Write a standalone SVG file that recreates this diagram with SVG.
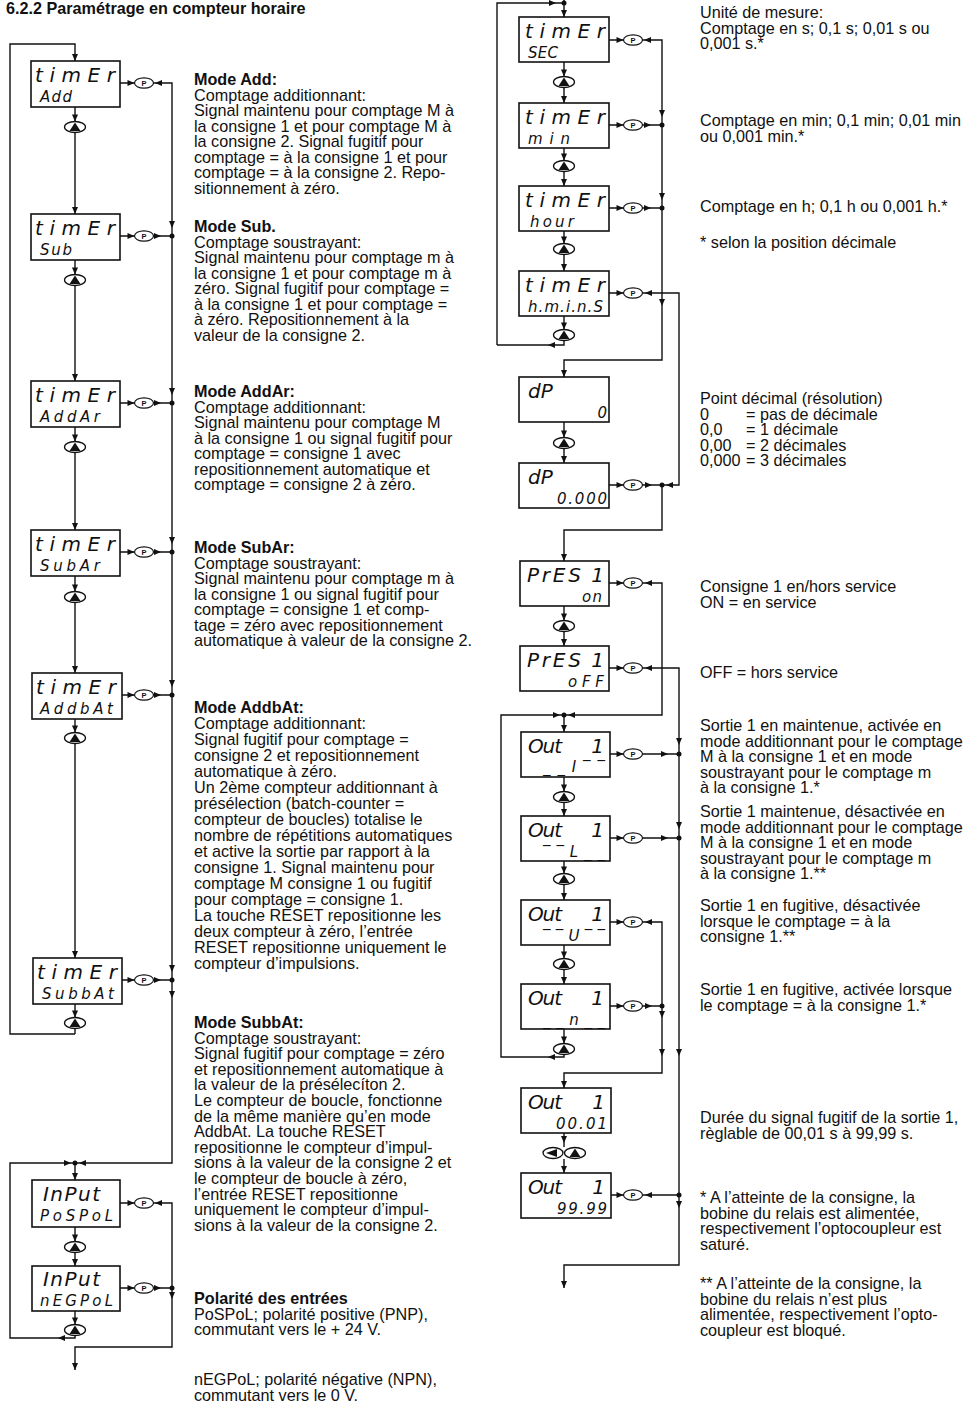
<svg xmlns="http://www.w3.org/2000/svg" width="980" height="1412" viewBox="0 0 980 1412">
<style>
.bg{fill:#fff}
.box{fill:#fff;stroke:#111;stroke-width:1.6}
.ln{fill:none;stroke:#111;stroke-width:1.4}
.t{font-family:"Liberation Sans",Arial,sans-serif;font-size:16.2px;fill:#111}
.b{font-weight:bold}
.s1{font-family:"DejaVu Sans",sans-serif;font-style:italic;font-size:20px;fill:#111}
.s2{font-family:"DejaVu Sans",sans-serif;font-style:italic;font-size:15px;fill:#111}
.ar{fill:#111}
</style>
<defs>
<path id="aD" class="ar" d="M0,0 L-3,-7 L3,-7 Z"/>
<path id="aR" class="ar" d="M0,0 L-7,-3 L-7,3 Z"/>
<path id="aL" class="ar" d="M0,0 L7,-3 L7,3 Z"/>
<circle id="dot" r="2.5" class="ar"/>
<g id="pb"><ellipse rx="9.5" ry="5.2" fill="#fff" stroke="#111" stroke-width="1.2"/><text y="2.7" text-anchor="middle" font-family="Liberation Sans,Arial,sans-serif" font-weight="bold" font-size="7.5" fill="#111">P</text></g>
<g id="ub"><ellipse rx="10.5" ry="5.5" fill="#fff" stroke="#111" stroke-width="1.3"/><path d="M-5.5,4 L5.5,4 L0,-4.5 Z" fill="#111"/></g>
<g id="lb"><ellipse rx="10" ry="5.5" fill="#fff" stroke="#111" stroke-width="1.3"/><path d="M-7,0 L4,-4 L4,4 Z" fill="#111"/></g>
</defs>
<rect class="bg" x="0" y="0" width="980" height="1412"/>

<text class="t b" x="6" y="14" font-size="21">6.2.2 Paramétrage en compteur horaire</text>

<g id="connectors">
<!-- left column -->
<path class="ln" d="M75,1034 H10 V44 H75 V61"/>
<use href="#aD" x="75" y="61"/>
<path class="ln" d="M75,107 V121.5 M75,132.5 V214 M75,260 V274.5 M75,285.5 V381 M75,427 V441.5 M75,452.5 V530 M75,576 V591.5 M75,602.5 V673 M75,719 V732.5 M75,743.5 V958 M75,1004 V1017.5 M75,1028.5 V1034"/>
<use href="#aD" x="75" y="121.5"/><use href="#aD" x="75" y="214"/>
<use href="#aD" x="75" y="274.5"/><use href="#aD" x="75" y="381"/>
<use href="#aD" x="75" y="441.5"/><use href="#aD" x="75" y="530"/>
<use href="#aD" x="75" y="591.5"/><use href="#aD" x="75" y="673"/>
<use href="#aD" x="75" y="732.5"/><use href="#aD" x="75" y="958"/>
<use href="#aD" x="75" y="1017.5"/>
<path class="ln" d="M120,83 H134.5 M120,236 H134.5 M120,403 H134.5 M120,552 H134.5 M120,695 H134.5 M120,980 H134.5"/>
<use href="#aR" x="134.5" y="83"/><use href="#aR" x="134.5" y="236"/><use href="#aR" x="134.5" y="403"/>
<use href="#aR" x="134.5" y="552"/><use href="#aR" x="134.5" y="695"/><use href="#aR" x="134.5" y="980"/>
<path class="ln" d="M153.5,83 H172 V1163 H10 V1338 H75 V1335.5 M153.5,236 H172 M153.5,403 H172 M153.5,552 H172 M153.5,695 H172 M153.5,980 H172"/>
<use href="#aR" x="161" y="236"/><use href="#aR" x="161" y="403"/><use href="#aR" x="161" y="552"/>
<use href="#aR" x="161" y="695"/><use href="#aR" x="161" y="980"/><use href="#aL" x="155" y="83"/>
<use href="#aD" x="172" y="228"/><use href="#aD" x="172" y="395"/><use href="#aD" x="172" y="544"/>
<use href="#aD" x="172" y="687"/><use href="#aD" x="172" y="972"/><use href="#aD" x="172" y="998"/>
<use href="#dot" x="172" y="236"/><use href="#dot" x="172" y="403"/><use href="#dot" x="172" y="552"/>
<use href="#dot" x="172" y="695"/><use href="#dot" x="172" y="980"/>
<use href="#dot" x="75" y="1163"/><use href="#aL" x="79" y="1163"/><use href="#aR" x="71" y="1163"/>
<path class="ln" d="M75,1163 V1180"/><use href="#aD" x="75" y="1180"/>
<use href="#aL" x="58" y="1338"/>
<path class="ln" d="M75,1227 V1241.5 M75,1252.5 V1266 M75,1311 V1324.5"/>
<use href="#aD" x="75" y="1241.5"/><use href="#aD" x="75" y="1266"/><use href="#aD" x="75" y="1324.5"/>
<path class="ln" d="M120,1203 H134.5 M120,1288 H134.5"/>
<use href="#aR" x="134.5" y="1203"/><use href="#aR" x="134.5" y="1288"/>
<path class="ln" d="M153.5,1203 H172 V1347 H75 V1370 M153.5,1288 H172"/>
<use href="#aR" x="161" y="1288"/><use href="#aL" x="155" y="1203"/>
<use href="#dot" x="172" y="1288"/><use href="#aD" x="172" y="1299"/><use href="#aD" x="75" y="1370"/>

<!-- middle column -->
<path class="ln" d="M564,0 V17 M497,345 V3 H564"/>
<use href="#dot" x="564" y="3"/><use href="#aR" x="556" y="3"/><use href="#aD" x="564" y="17"/>
<path class="ln" d="M564,62 V76.5 M564,87.5 V103 M564,148 V160.5 M564,171.5 V186 M564,231 V243.5 M564,254.5 V271 M564,316 V329.5 M564,340.5 V345 H497"/>
<use href="#aD" x="564" y="76.5"/><use href="#aD" x="564" y="103"/>
<use href="#aD" x="564" y="160.5"/><use href="#aD" x="564" y="186"/>
<use href="#aD" x="564" y="243.5"/><use href="#aD" x="564" y="271"/>
<use href="#aD" x="564" y="329.5"/><use href="#aL" x="548" y="345"/>
<path class="ln" d="M609,40 H623.5 M609,125 H623.5 M609,208 H623.5 M609,293 H623.5 M609,485 H623.5 M609,583 H623.5 M609,668 H623.5 M610,754 H623.5 M610,838 H623.5 M610,922 H623.5 M610,1006 H623.5 M611,1195 H623.5"/>
<use href="#aR" x="623.5" y="40"/><use href="#aR" x="623.5" y="125"/><use href="#aR" x="623.5" y="208"/>
<use href="#aR" x="623.5" y="293"/><use href="#aR" x="623.5" y="485"/><use href="#aR" x="623.5" y="583"/>
<use href="#aR" x="623.5" y="668"/><use href="#aR" x="623.5" y="754"/><use href="#aR" x="623.5" y="838"/>
<use href="#aR" x="623.5" y="922"/><use href="#aR" x="623.5" y="1006"/><use href="#aR" x="623.5" y="1195"/>
<path class="ln" d="M642.5,40 H662 V360 H564 V377 M642.5,125 H662 M642.5,208 H662"/>
<use href="#aL" x="644" y="40"/><use href="#aR" x="651" y="125"/><use href="#aR" x="651" y="208"/>
<use href="#dot" x="662" y="125"/><use href="#dot" x="662" y="208"/>
<use href="#aD" x="662" y="117"/><use href="#aD" x="662" y="200"/><use href="#aD" x="662" y="306"/>
<use href="#aD" x="564" y="377"/>
<path class="ln" d="M642.5,293 H679 V485 H662 M642.5,485 H662 V530 H564 V561"/>
<use href="#aL" x="645" y="293"/><use href="#aR" x="652" y="485"/><use href="#aL" x="666" y="485"/>
<use href="#dot" x="662" y="485"/><use href="#aD" x="564" y="561"/>
<path class="ln" d="M564,422 V437.5 M564,448.5 V463 M564,606 V620.5 M564,631.5 V646"/>
<use href="#aD" x="564" y="437.5"/><use href="#aD" x="564" y="463"/>
<use href="#aD" x="564" y="620.5"/><use href="#aD" x="564" y="646"/>
<path class="ln" d="M642.5,583 H662 V715 H501 V1057 H564 V1054.5 M564,715 V732"/>
<use href="#aL" x="645" y="583"/>
<use href="#dot" x="564" y="715"/><use href="#aL" x="568" y="715"/><use href="#aR" x="560" y="715"/>
<use href="#aD" x="564" y="732"/>
<path class="ln" d="M642.5,668 H679 V1265 H564 V1288 M642.5,754 H679 M642.5,838 H679 M642.5,1195 H679"/>
<use href="#aL" x="645" y="668"/><use href="#aR" x="668" y="754"/><use href="#aR" x="668" y="838"/><use href="#aL" x="645" y="1195"/>
<use href="#dot" x="679" y="754"/><use href="#dot" x="679" y="838"/><use href="#dot" x="679" y="1195"/>
<use href="#aD" x="679" y="745"/><use href="#aD" x="679" y="829"/><use href="#aD" x="679" y="1056"/><use href="#aD" x="679" y="1208"/>
<use href="#aD" x="564" y="1288"/>
<path class="ln" d="M564,777 V791.5 M564,802.5 V816 M564,861 V873.5 M564,884.5 V900 M564,945 V958.5 M564,969.5 V984 M564,1029 V1043.5"/>
<use href="#aD" x="564" y="791.5"/><use href="#aD" x="564" y="816"/>
<use href="#aD" x="564" y="873.5"/><use href="#aD" x="564" y="900"/>
<use href="#aD" x="564" y="958.5"/><use href="#aD" x="564" y="984"/>
<use href="#aD" x="564" y="1043.5"/><use href="#aL" x="548" y="1057"/>
<path class="ln" d="M642.5,922 H662 V1073 H564 V1088 M642.5,1006 H662"/>
<use href="#aL" x="645" y="922"/><use href="#aR" x="652" y="1006"/>
<use href="#dot" x="662" y="1006"/><use href="#aD" x="662" y="1018"/><use href="#aD" x="662" y="1056"/>
<use href="#aD" x="564" y="1088"/>
<path class="ln" d="M564,1133 V1147 M564,1159 V1173"/>
<use href="#aD" x="564" y="1143"/><use href="#aD" x="564" y="1173"/>
</g>

<g id="buttons">
<use href="#pb" x="144" y="83"/><use href="#pb" x="144" y="236"/><use href="#pb" x="144" y="403"/>
<use href="#pb" x="144" y="552"/><use href="#pb" x="144" y="695"/><use href="#pb" x="144" y="980"/>
<use href="#pb" x="144" y="1203"/><use href="#pb" x="144" y="1288"/>
<use href="#ub" x="75" y="127"/><use href="#ub" x="75" y="280"/><use href="#ub" x="75" y="447"/>
<use href="#ub" x="75" y="597"/><use href="#ub" x="75" y="738"/><use href="#ub" x="75" y="1023"/>
<use href="#ub" x="75" y="1247"/><use href="#ub" x="75" y="1330"/>
<use href="#pb" x="633" y="40"/><use href="#pb" x="633" y="125"/><use href="#pb" x="633" y="208"/>
<use href="#pb" x="633" y="293"/><use href="#pb" x="633" y="485"/><use href="#pb" x="633" y="583"/>
<use href="#pb" x="633" y="668"/><use href="#pb" x="633" y="754"/><use href="#pb" x="633" y="838"/>
<use href="#pb" x="633" y="922"/><use href="#pb" x="633" y="1006"/><use href="#pb" x="633" y="1195"/>
<use href="#ub" x="564" y="82"/><use href="#ub" x="564" y="166"/><use href="#ub" x="564" y="249"/>
<use href="#ub" x="564" y="335"/><use href="#ub" x="564" y="443"/><use href="#ub" x="564" y="626"/>
<use href="#ub" x="564" y="797"/><use href="#ub" x="564" y="879"/><use href="#ub" x="564" y="964"/>
<use href="#ub" x="564" y="1049"/>
<use href="#lb" x="553" y="1153"/><use href="#ub" x="575" y="1153"/>
</g>

<!-- left column displays -->
<g id="n-add"><rect class="box" x="31" y="61" width="89" height="46"/><text class="s1" x="35" y="82" textLength="80" lengthAdjust="spacing">timEr</text><text class="s2" x="40" y="102" textLength="32" lengthAdjust="spacing">Add</text></g>
<g id="n-sub"><rect class="box" x="31" y="214" width="89" height="46"/><text class="s1" x="35" y="235" textLength="80" lengthAdjust="spacing">timEr</text><text class="s2" x="40" y="255" textLength="32" lengthAdjust="spacing">Sub</text></g>
<g id="n-addar"><rect class="box" x="31" y="381" width="89" height="46"/><text class="s1" x="35" y="402" textLength="80" lengthAdjust="spacing">timEr</text><text class="s2" x="40" y="422" textLength="60" lengthAdjust="spacing">AddAr</text></g>
<g id="n-subar"><rect class="box" x="31" y="530" width="89" height="46"/><text class="s1" x="35" y="551" textLength="80" lengthAdjust="spacing">timEr</text><text class="s2" x="40" y="571" textLength="60" lengthAdjust="spacing">SubAr</text></g>
<g id="n-addbat"><rect class="box" x="32" y="673" width="90" height="46"/><text class="s1" x="36" y="694" textLength="80" lengthAdjust="spacing">timEr</text><text class="s2" x="40" y="714" textLength="73" lengthAdjust="spacing">AddbAt</text></g>
<g id="n-subbat"><rect class="box" x="33" y="958" width="89" height="46"/><text class="s1" x="37" y="979" textLength="80" lengthAdjust="spacing">timEr</text><text class="s2" x="42" y="999" textLength="72" lengthAdjust="spacing">SubbAt</text></g>
<g id="n-pospol"><rect class="box" x="32" y="1180" width="88" height="47"/><text class="s1" x="43" y="1201" textLength="57" lengthAdjust="spacing">InPut</text><text class="s2" x="40" y="1221" textLength="73" lengthAdjust="spacing">PoSPoL</text></g>
<g id="n-negpol"><rect class="box" x="32" y="1266" width="88" height="45"/><text class="s1" x="43" y="1286" textLength="57" lengthAdjust="spacing">InPut</text><text class="s2" x="40" y="1306" textLength="73" lengthAdjust="spacing">nEGPoL</text></g>

<!-- middle column displays -->
<g id="n-sec"><rect class="box" x="519" y="17" width="90" height="45"/><text class="s1" x="525" y="38" textLength="80" lengthAdjust="spacing">timEr</text><text class="s2" x="528" y="58" textLength="30" lengthAdjust="spacing">SEC</text></g>
<g id="n-min"><rect class="box" x="519" y="103" width="90" height="45"/><text class="s1" x="525" y="124" textLength="80" lengthAdjust="spacing">timEr</text><text class="s2" x="528" y="144" textLength="42" lengthAdjust="spacing">min</text></g>
<g id="n-hour"><rect class="box" x="519" y="186" width="90" height="45"/><text class="s1" x="525" y="207" textLength="80" lengthAdjust="spacing">timEr</text><text class="s2" x="530" y="227" textLength="44" lengthAdjust="spacing">hour</text></g>
<g id="n-hmins"><rect class="box" x="519" y="271" width="90" height="45"/><text class="s1" x="525" y="292" textLength="80" lengthAdjust="spacing">timEr</text><text class="s2" x="528" y="312" textLength="75" lengthAdjust="spacing">h.m.i.n.S</text></g>
<g id="n-dp0"><rect class="box" x="519" y="377" width="90" height="45"/><text class="s1" x="528" y="398">dP</text><text class="s2" x="607" y="418" text-anchor="end">0</text></g>
<g id="n-dp000"><rect class="box" x="519" y="463" width="90" height="45"/><text class="s1" x="528" y="484">dP</text><text class="s2" x="557" y="504" textLength="50" lengthAdjust="spacing">0.000</text></g>
<g id="n-pres-on"><rect class="box" x="520" y="561" width="89" height="45"/><text class="s1" x="527" y="582" textLength="54" lengthAdjust="spacing">PrES</text><text class="s1" x="604" y="582" text-anchor="end">1</text><text class="s2" x="582" y="602" textLength="20" lengthAdjust="spacing">on</text></g>
<g id="n-pres-off"><rect class="box" x="520" y="646" width="89" height="45"/><text class="s1" x="527" y="667" textLength="54" lengthAdjust="spacing">PrES</text><text class="s1" x="604" y="667" text-anchor="end">1</text><text class="s2" x="568" y="687" textLength="36" lengthAdjust="spacing">oFF</text></g>
<g id="n-out1"><rect class="box" x="521" y="732" width="89" height="45"/><text class="s1" x="528" y="753" textLength="34" lengthAdjust="spacing">Out</text><text class="s1" x="604" y="753" text-anchor="end">1</text><text class="s2" x="543" y="772" textLength="62" lengthAdjust="spacing">_ _ I ‾ ‾</text></g>
<g id="n-out2"><rect class="box" x="521" y="816" width="89" height="45"/><text class="s1" x="528" y="837" textLength="34" lengthAdjust="spacing">Out</text><text class="s1" x="604" y="837" text-anchor="end">1</text><text class="s2" x="543" y="857" textLength="62" lengthAdjust="spacing">‾ ‾ L _ _</text></g>
<g id="n-out3"><rect class="box" x="521" y="900" width="89" height="45"/><text class="s1" x="528" y="921" textLength="34" lengthAdjust="spacing">Out</text><text class="s1" x="604" y="921" text-anchor="end">1</text><text class="s2" x="543" y="941" textLength="62" lengthAdjust="spacing">‾ ‾ U ‾ ‾</text></g>
<g id="n-out4"><rect class="box" x="521" y="984" width="89" height="45"/><text class="s1" x="528" y="1005" textLength="34" lengthAdjust="spacing">Out</text><text class="s1" x="604" y="1005" text-anchor="end">1</text><text class="s2" x="543" y="1025" textLength="62" lengthAdjust="spacing">_ _ n _ _</text></g>
<g id="n-out0001"><rect class="box" x="521" y="1088" width="90" height="45"/><text class="s1" x="528" y="1109" textLength="34" lengthAdjust="spacing">Out</text><text class="s1" x="605" y="1109" text-anchor="end">1</text><text class="s2" x="556" y="1129" textLength="51" lengthAdjust="spacing">00.01</text></g>
<g id="n-out9999"><rect class="box" x="521" y="1173" width="90" height="45"/><text class="s1" x="528" y="1194" textLength="34" lengthAdjust="spacing">Out</text><text class="s1" x="605" y="1194" text-anchor="end">1</text><text class="s2" x="557" y="1214" textLength="50" lengthAdjust="spacing">99.99</text></g>

<!-- left text -->
<g id="txt-left" class="t">
<text x="194" y="85"><tspan class="b">Mode Add:</tspan><tspan x="194" dy="15.5">Comptage additionnant:</tspan><tspan x="194" dy="15.5">Signal maintenu pour comptage M à</tspan><tspan x="194" dy="15.5">la consigne 1 et pour comptage M à</tspan><tspan x="194" dy="15.5">la consigne 2. Signal fugitif pour</tspan><tspan x="194" dy="15.5">comptage = à la consigne 1 et pour</tspan><tspan x="194" dy="15.5">comptage = à la consigne 2. Repo-</tspan><tspan x="194" dy="15.5">sitionnement à zéro.</tspan></text>
<text x="194" y="232"><tspan class="b">Mode Sub.</tspan><tspan x="194" dy="15.5">Comptage soustrayant:</tspan><tspan x="194" dy="15.5">Signal maintenu pour comptage m à</tspan><tspan x="194" dy="15.5">la consigne 1 et pour comptage m à</tspan><tspan x="194" dy="15.5">zéro. Signal fugitif pour comptage =</tspan><tspan x="194" dy="15.5">à la consigne 1 et pour comptage =</tspan><tspan x="194" dy="15.5">à zéro. Repositionnement à la</tspan><tspan x="194" dy="15.5">valeur de la  consigne 2.</tspan></text>
<text x="194" y="397"><tspan class="b">Mode AddAr:</tspan><tspan x="194" dy="15.5">Comptage additionnant:</tspan><tspan x="194" dy="15.5">Signal maintenu pour comptage M</tspan><tspan x="194" dy="15.5">à la consigne 1 ou signal fugitif pour</tspan><tspan x="194" dy="15.5">comptage = consigne 1 avec</tspan><tspan x="194" dy="15.5">repositionnement automatique et</tspan><tspan x="194" dy="15.5">comptage = consigne 2 à zéro.</tspan></text>
<text x="194" y="553"><tspan class="b">Mode SubAr:</tspan><tspan x="194" dy="15.5">Comptage soustrayant:</tspan><tspan x="194" dy="15.5">Signal maintenu pour comptage m à</tspan><tspan x="194" dy="15.5">la consigne 1 ou signal fugitif pour</tspan><tspan x="194" dy="15.5">comptage = consigne 1 et comp-</tspan><tspan x="194" dy="15.5">tage = zéro avec repositionnement</tspan><tspan x="194" dy="15.5">automatique à valeur de la consigne 2.</tspan></text>
<text x="194" y="713"><tspan class="b">Mode AddbAt:</tspan><tspan x="194" dy="16">Comptage additionnant:</tspan><tspan x="194" dy="16">Signal fugitif pour comptage =</tspan><tspan x="194" dy="16">consigne 2 et repositionnement</tspan><tspan x="194" dy="16">automatique à zéro.</tspan><tspan x="194" dy="16">Un 2ème compteur additionnant à</tspan><tspan x="194" dy="16">présélection (batch-counter =</tspan><tspan x="194" dy="16">compteur de boucles) totalise le</tspan><tspan x="194" dy="16">nombre de répétitions automatiques</tspan><tspan x="194" dy="16">et active la sortie par rapport à la</tspan><tspan x="194" dy="16">consigne 1. Signal maintenu pour</tspan><tspan x="194" dy="16">comptage M consigne 1 ou fugitif</tspan><tspan x="194" dy="16">pour comptage = consigne 1.</tspan><tspan x="194" dy="16">La touche RESET repositionne les</tspan><tspan x="194" dy="16">deux compteur à zéro, l’entrée</tspan><tspan x="194" dy="16">RESET repositionne uniquement le</tspan><tspan x="194" dy="16">compteur d’impulsions.</tspan></text>
<text x="194" y="1028"><tspan class="b">Mode SubbAt:</tspan><tspan x="194" dy="15.6">Comptage soustrayant:</tspan><tspan x="194" dy="15.6">Signal fugitif pour comptage = zéro</tspan><tspan x="194" dy="15.6">et repositionnement automatique à</tspan><tspan x="194" dy="15.6">la valeur de la présélecíton 2.</tspan><tspan x="194" dy="15.6">Le compteur de boucle, fonctionne</tspan><tspan x="194" dy="15.6">de la même manière qu’en mode</tspan><tspan x="194" dy="15.6">AddbAt. La touche RESET</tspan><tspan x="194" dy="15.6">repositionne le compteur d’impul-</tspan><tspan x="194" dy="15.6">sions à la valeur de la consigne 2 et</tspan><tspan x="194" dy="15.6">le compteur de boucle à zéro,</tspan><tspan x="194" dy="15.6">l’entrée RESET repositionne</tspan><tspan x="194" dy="15.6">uniquement le compteur d’impul-</tspan><tspan x="194" dy="15.6">sions à la valeur de la consigne 2.</tspan></text>
<text x="194" y="1304"><tspan class="b">Polarité des entrées</tspan><tspan x="194" dy="15.5">PoSPoL; polarité positive (PNP),</tspan><tspan x="194" dy="15.5">commutant vers le + 24 V.</tspan></text>
<text x="194" y="1385"><tspan>nEGPoL; polarité négative (NPN),</tspan><tspan x="194" dy="15.5">commutant vers le 0 V.</tspan></text>
</g>

<!-- right text -->
<g id="txt-right" class="t">
<text x="700" y="18"><tspan>Unité de mesure:</tspan><tspan x="700" dy="15.5">Comptage en s; 0,1 s; 0,01 s ou</tspan><tspan x="700" dy="15.5">0,001 s.*</tspan></text>
<text x="700" y="126"><tspan>Comptage en min; 0,1 min; 0,01 min</tspan><tspan x="700" dy="15.5">ou 0,001 min.*</tspan></text>
<text x="700" y="212">Comptage en h; 0,1 h ou 0,001 h.*</text>
<text x="700" y="248">* selon la position décimale</text>
<text x="700" y="404"><tspan>Point décimal (résolution)</tspan><tspan x="700" dy="15.5">0</tspan><tspan x="746">= pas de décimale</tspan><tspan x="700" dy="15.5">0,0</tspan><tspan x="746">= 1 décimale</tspan><tspan x="700" dy="15.5">0,00</tspan><tspan x="746">= 2 décimales</tspan><tspan x="700" dy="15.5">0,000</tspan><tspan x="746">= 3 décimales</tspan></text>
<text x="700" y="592"><tspan>Consigne 1 en/hors service</tspan><tspan x="700" dy="15.5">ON = en service</tspan></text>
<text x="700" y="678">OFF = hors service</text>
<text x="700" y="731"><tspan>Sortie 1 en maintenue, activée en</tspan><tspan x="700" dy="15.5">mode additionnant pour le comptage</tspan><tspan x="700" dy="15.5">M à la consigne 1 et en mode</tspan><tspan x="700" dy="15.5">soustrayant pour le comptage m</tspan><tspan x="700" dy="15.5">à la consigne 1.*</tspan></text>
<text x="700" y="817"><tspan>Sortie 1 maintenue, désactivée en</tspan><tspan x="700" dy="15.5">mode additionnant pour le comptage</tspan><tspan x="700" dy="15.5">M à la consigne 1 et en mode</tspan><tspan x="700" dy="15.5">soustrayant pour le comptage m</tspan><tspan x="700" dy="15.5">à la consigne 1.**</tspan></text>
<text x="700" y="911"><tspan>Sortie 1 en fugitive, désactivée</tspan><tspan x="700" dy="15.5">lorsque le comptage = à la</tspan><tspan x="700" dy="15.5">consigne 1.**</tspan></text>
<text x="700" y="995"><tspan>Sortie 1 en fugitive, activée lorsque</tspan><tspan x="700" dy="15.5">le comptage = à la consigne 1.*</tspan></text>
<text x="700" y="1123"><tspan>Durée du signal fugitif de la sortie 1,</tspan><tspan x="700" dy="15.5">règlable de 00,01 s à 99,99 s.</tspan></text>
<text x="700" y="1203"><tspan>* A l’atteinte de la consigne, la</tspan><tspan x="700" dy="15.5">bobine du relais est alimentée,</tspan><tspan x="700" dy="15.5">respectivement l’optocoupleur est</tspan><tspan x="700" dy="15.5">saturé.</tspan></text>
<text x="700" y="1289"><tspan>** A l’atteinte de la consigne, la</tspan><tspan x="700" dy="15.5">bobine du relais n’est plus</tspan><tspan x="700" dy="15.5">alimentée, respectivement l’opto-</tspan><tspan x="700" dy="15.5">coupleur est bloqué.</tspan></text>
</g>
</svg>
